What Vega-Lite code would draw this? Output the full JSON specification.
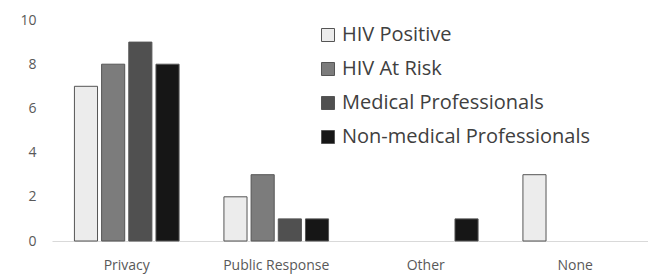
{
  "$schema": "https://vega.github.io/schema/vega-lite/v6.json",
  "width": 598,
  "height": 221,
  "autosize": {"type": "none"},
  "padding": {"left": 52, "top": 20, "right": 0, "bottom": 34},
  "background": "white",
  "config": {"view": {"stroke": null}, "font": "Open Sans"},
  "data": {
    "values": [
      {"category": "Privacy", "group": "HIV Positive", "value": 7},
      {"category": "Privacy", "group": "HIV At Risk", "value": 8},
      {"category": "Privacy", "group": "Medical Professionals", "value": 9},
      {"category": "Privacy", "group": "Non-medical Professionals", "value": 8},
      {"category": "Public Response", "group": "HIV Positive", "value": 2},
      {"category": "Public Response", "group": "HIV At Risk", "value": 3},
      {"category": "Public Response", "group": "Medical Professionals", "value": 1},
      {"category": "Public Response", "group": "Non-medical Professionals", "value": 1},
      {"category": "Other", "group": "HIV Positive", "value": 0},
      {"category": "Other", "group": "HIV At Risk", "value": 0},
      {"category": "Other", "group": "Medical Professionals", "value": 0},
      {"category": "Other", "group": "Non-medical Professionals", "value": 1},
      {"category": "None", "group": "HIV Positive", "value": 3},
      {"category": "None", "group": "HIV At Risk", "value": 0},
      {"category": "None", "group": "Medical Professionals", "value": 0},
      {"category": "None", "group": "Non-medical Professionals", "value": 0}
    ]
  },
  "transform": [{"filter": "datum.value > 0"}],
  "mark": {"type": "bar", "stroke": "#555555", "strokeWidth": 1},
  "encoding": {
    "x": {
      "field": "category",
      "type": "nominal",
      "sort": ["Privacy", "Public Response", "Other", "None"],
      "scale": {"domain": ["Privacy", "Public Response", "Other", "None"], "paddingInner": 0.3, "paddingOuter": 0.15},
      "axis": {
        "title": null,
        "labelAngle": 0,
        "ticks": false,
        "domainColor": "#d9d9d9",
        "labelColor": "#595959",
        "labelFontSize": 14,
        "labelPadding": 17
      }
    },
    "xOffset": {
      "field": "group",
      "type": "nominal",
      "scale": {"domain": ["HIV Positive", "HIV At Risk", "Medical Professionals", "Non-medical Professionals"], "paddingInner": 0.15}
    },
    "y": {
      "field": "value",
      "type": "quantitative",
      "scale": {"domain": [0, 10]},
      "axis": {
        "title": null,
        "values": [0, 2, 4, 6, 8, 10],
        "grid": false,
        "domain": false,
        "ticks": false,
        "labelColor": "#595959",
        "labelFontSize": 14,
        "labelPadding": 16
      }
    },
    "fill": {
      "field": "group",
      "type": "nominal",
      "scale": {
        "domain": ["HIV Positive", "HIV At Risk", "Medical Professionals", "Non-medical Professionals"],
        "range": ["#ececec", "#7c7c7c", "#505050", "#161616"]
      },
      "legend": {
        "title": null,
        "orient": "none",
        "legendX": 266,
        "legendY": 5,
        "symbolType": "square",
        "symbolSize": 169,
        "symbolStrokeColor": "#555555",
        "symbolStrokeWidth": 1,
        "labelFontSize": 20,
        "labelColor": "#404040",
        "labelLimit": 400,
        "rowPadding": 14,
        "labelOffset": 4
      }
    }
  }
}
